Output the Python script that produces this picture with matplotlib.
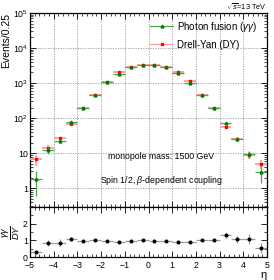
import numpy as np
import matplotlib
matplotlib.use('Agg')
import matplotlib.pyplot as plt
from matplotlib.lines import Line2D
from matplotlib.ticker import FixedLocator, MultipleLocator, LogLocator, NullFormatter

plt.rcParams['font.family'] = ['Liberation Sans', 'DejaVu Sans']
plt.rcParams['mathtext.fontset'] = 'custom'
plt.rcParams['mathtext.rm'] = 'Liberation Sans'
plt.rcParams['mathtext.it'] = 'Liberation Sans:italic'

# bin centres in eta (bin width 0.5)
eta = [-4.75, -4.25, -3.75, -3.25, -2.75, -2.25, -1.75, -1.25, -0.75, -0.25,
       0.25, 0.75, 1.25, 1.75, 2.25, 2.75, 3.25, 3.75, 4.25, 4.75]

# photon fusion
gg = [1.85, 12.4, 22.4, 75, 191, 463, 1070, 1850, 2860, 3180,
      3240, 2860, 1880, 1020, 463, 193, 72, 25.6, 9.5, 2.8]
gg_err = [1.25, 2.7, 3.0, 5, 9, 15, 25, 40, 50, 55,
          55, 50, 40, 30, 15, 9, 6, 3.0, 2.0, 1.4]

# Drell-Yan
dy = [6.7, 14.4, 26.8, 70, 197, 455, 1090, 2100, 2900, 3200,
      3250, 2900, 2100, 1110, 455, 191, 55, 24.5, 8.9, 4.9]
dy_err = [2.3, 2.5, 3.0, 5, 9, 15, 25, 45, 50, 55,
          55, 50, 45, 30, 15, 9, 5, 3.0, 1.9, 1.3]

# ratio gg/dy
ratio = [0.28, 0.84, 0.86, 1.07, 0.97, 1.03, 0.98, 0.90, 0.99, 1.0,
         0.98, 0.98, 0.91, 0.92, 1.02, 1.01, 1.32, 1.07, 1.07, 0.55]
ratio_err = [0.12, 0.2, 0.2, 0.12, 0.07, 0.05, 0.05, 0.04, 0.04, 0.04,
             0.04, 0.04, 0.04, 0.05, 0.05, 0.07, 0.15, 0.2, 0.3, 0.3]

fig = plt.figure(figsize=(2.74, 2.80), dpi=100)
ax = fig.add_axes([0.1095, 0.2607, 0.865, 0.693])
rx = fig.add_axes([0.1095, 0.0821, 0.865, 0.1786], sharex=ax)

fs = 6.3
red, red_l = '#ff0000', '#ff9c9c'
green, green_l = '#007a00', '#4ca64c'

ax.errorbar(eta, dy, yerr=dy_err, xerr=0.25, fmt='s', ms=1.6, color=red,
            ecolor=red_l, elinewidth=1.3, capsize=0, zorder=3)
ax.errorbar(eta, gg, yerr=gg_err, xerr=0.25, fmt='^', ms=2.0, color=green,
            ecolor=green_l, elinewidth=0.9, capsize=0, zorder=4)

ax.set_yscale('log')
ax.set_ylim(0.29, 1e5)
ax.set_xlim(-5, 5)
ax.grid(True, which='major', linestyle=(0, (1.5, 1.5)), color='#999999', linewidth=0.6)
ax.yaxis.set_major_locator(LogLocator(base=10, numticks=10))
ax.yaxis.set_minor_locator(LogLocator(base=10, subs=np.arange(2, 10), numticks=10))
ax.yaxis.set_minor_formatter(NullFormatter())

def fmt_log(v, pos):
    if v == 1:
        return '1'
    if v == 10:
        return '10'
    return '$10^{%d}$' % int(round(np.log10(v)))
ax.yaxis.set_major_formatter(plt.FuncFormatter(fmt_log))

ax.xaxis.set_major_locator(MultipleLocator(1))
ax.xaxis.set_minor_locator(MultipleLocator(0.2))
ax.tick_params(axis='x', labelbottom=False)
for a in (ax, rx):
    a.tick_params(which='both', direction='in', top=True, right=True, labelsize=fs, pad=1.5)
    a.tick_params(which='major', length=4, width=0.6)
    a.tick_params(which='minor', length=2, width=0.5)
    for s in a.spines.values():
        s.set_linewidth(0.9)
rx.tick_params(axis='x', pad=3.2)

ax.set_ylabel('Events/0.25', fontsize=7.5, loc='top', labelpad=1)

handles = [Line2D([], [], color=green_l, lw=0.9, marker='^', ms=2.0, mfc=green, mec=green),
           Line2D([], [], color=red_l, lw=0.9, marker='s', ms=1.6, mfc=red, mec=red)]
labels = ['Photon fusion ($\\gamma\\gamma$)', 'Drell-Yan (DY)']
ax.legend(handles, labels, loc='upper left', bbox_to_anchor=(0.49, 0.985),
          frameon=False, fontsize=fs + 0.7, handlelength=2.4, handletextpad=0.4,
          labelspacing=0.6, borderaxespad=0)

ax.text(0.555, 0.258, 'monopole mass: 1500 GeV', transform=ax.transAxes,
        ha='center', va='center', fontsize=fs)
ax.text(0.555, 0.137, 'Spin 1/2, $\\beta$-dependent coupling', transform=ax.transAxes,
        ha='center', va='center', fontsize=fs)
fig.text(0.975, 0.976, '$\\sqrt{s}$=13 TeV', ha='right', va='center', fontsize=5.3)

rx.errorbar(eta, ratio, yerr=ratio_err, xerr=0.25, fmt='o', ms=1.9, color='black',
            ecolor='#999999', elinewidth=0.9, capsize=0)
rx.set_ylim(0, 3)
rx.yaxis.set_major_locator(FixedLocator([0, 1, 2]))
rx.yaxis.set_minor_locator(MultipleLocator(0.5))
rx.set_ylabel('$\\frac{\\gamma\\gamma}{DY}$', fontsize=9.5, labelpad=1)
rx.set_xlabel('η', fontsize=8, loc='right', labelpad=0)
rx.xaxis.set_major_locator(MultipleLocator(1))
rx.xaxis.set_minor_locator(MultipleLocator(0.2))

fig.savefig('out.png', dpi=100)
